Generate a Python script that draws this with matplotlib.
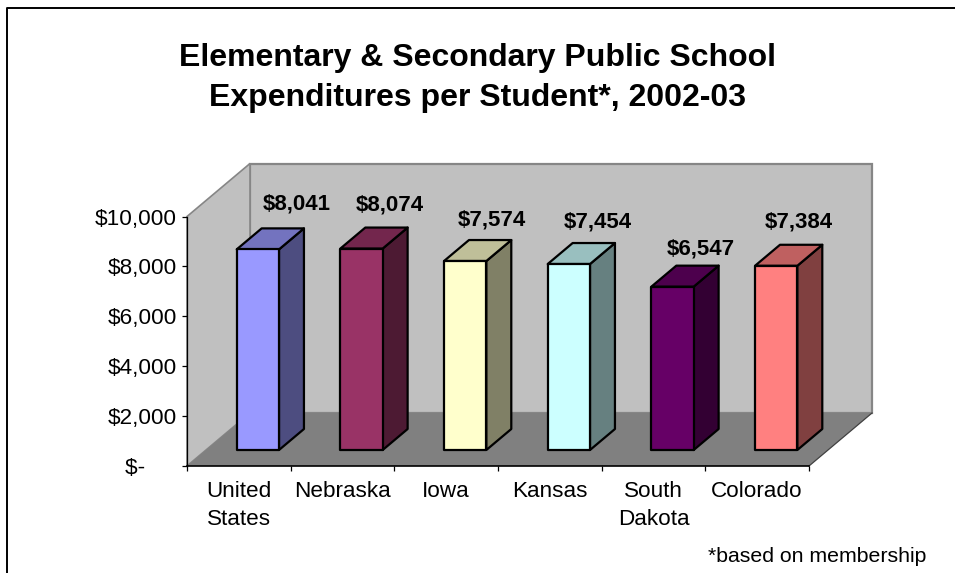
#!/usr/bin/env python3
"""Per-student school expenditures as an Excel-style 3D column chart."""
import matplotlib
matplotlib.use("Agg")
import matplotlib.pyplot as plt
from matplotlib.colors import to_rgb
from matplotlib.lines import Line2D
from matplotlib.patches import Polygon

STATES = ["United\nStates", "Nebraska", "Iowa", "Kansas", "South\nDakota", "Colorado"]
SPENDING = [8041, 8074, 7574, 7454, 6547, 7384]
COLORS = ["#9999FF", "#993366", "#FFFFCC", "#CCFFFF", "#660066", "#FF8080"]
Y_TICKS = [0, 2000, 4000, 6000, 8000, 10000]
# label nudges in pixels from the back-top centre of each column
LABEL_NUDGE = [(13.5, 24), (3, 23), (2, 20.5), (3.5, 21), (3, 17), (-2.5, 23)]

W, H = 955, 573
LEFT, RIGHT, BASE, TOP = 187, 809, 466, 216.5
# full depth of the box, in data units
DEPTH_X = 63 / ((RIGHT - LEFT) / 6)
DEPTH_Y = 53 / ((BASE - TOP) / 10000)
BAR_WIDTH = 0.408
BAR_FRONT, BAR_BACK = 0.302, 0.698


def shade(color, k):
    return tuple(c * k for c in to_rgb(color))


def proj(x, y, d):
    return (x + d * DEPTH_X, y + d * DEPTH_Y)


def main():
    plt.rcParams["font.family"] = ["Liberation Sans", "DejaVu Sans"]
    fig = plt.figure(figsize=(W / 100, H / 100), dpi=100)
    ax = fig.add_axes([LEFT / W, 1 - BASE / H, (RIGHT - LEFT) / W, (BASE - TOP) / H])
    ax.set_xlim(0, 6)
    ax.set_ylim(0, 10000)
    ax.patch.set_visible(False)
    for side in ("top", "right"):
        ax.spines[side].set_visible(False)
    ax.spines["left"].set_linewidth(0.9)
    ax.spines["bottom"].set_linewidth(1.2)

    # walls and floor
    wall = "#C0C0C0"
    edge = "#868686"
    ax.add_patch(Polygon([proj(0, 0, 1), proj(6, 0, 1), proj(6, 10000, 1), proj(0, 10000, 1)],
                         fc=wall, ec=edge, lw=1.6, clip_on=False, zorder=1))
    ax.add_patch(Polygon([proj(0, 0, 0), proj(0, 0, 1), proj(0, 10000, 1), proj(0, 10000, 0)],
                         fc=wall, ec=edge, lw=1.2, clip_on=False, zorder=1))
    ax.add_patch(Polygon([proj(0, 0, 0), proj(6, 0, 0), proj(6, 0, 1), proj(0, 0, 1)],
                         fc="#808080", ec="none", clip_on=False, zorder=1.5))
    ax.add_line(Line2D(*zip(proj(6, 0, 0), proj(6, 0, 1)), color="#404040", lw=0.9,
                       clip_on=False, zorder=1.6))

    # columns: side, top, front
    for i, (val, col) in enumerate(zip(SPENDING, COLORS)):
        x0 = i + 0.5 - BAR_WIDTH / 2
        x1 = i + 0.5 + BAR_WIDTH / 2
        style = dict(ec="black", lw=1.6, clip_on=False, zorder=3, joinstyle="round")
        ax.add_patch(Polygon([proj(x1, 0, BAR_FRONT), proj(x1, 0, BAR_BACK),
                              proj(x1, val, BAR_BACK), proj(x1, val, BAR_FRONT)],
                             fc=shade(col, 0.5), **style))
        ax.add_patch(Polygon([proj(x0, val, BAR_FRONT), proj(x1, val, BAR_FRONT),
                              proj(x1, val, BAR_BACK), proj(x0, val, BAR_BACK)],
                             fc=shade(col, 0.75), **style))
        ax.add_patch(Polygon([proj(x0, 0, BAR_FRONT), proj(x1, 0, BAR_FRONT),
                              proj(x1, val, BAR_FRONT), proj(x0, val, BAR_FRONT)],
                             fc=col, **style))
        ax.annotate(f"${val:,}", xy=proj(i + 0.5, val, BAR_BACK),
                    xytext=(LABEL_NUDGE[i][0] * 0.72, LABEL_NUDGE[i][1] * 0.72),
                    textcoords="offset points", ha="center", va="center",
                    fontsize=16, fontweight="bold", zorder=4, annotation_clip=False)

    ax.set_yticks(Y_TICKS)
    # the zero label keeps the accounting format's trailing padding
    ax.set_yticklabels(["$-\u00a0\u00a0\u00a0\u00a0\u00a0" if v == 0 else f"${v:,}" for v in Y_TICKS],
                       fontsize=16.2)
    ax.tick_params(axis="y", length=3.5, width=0.9, pad=4)
    ax.set_xticks(range(7))
    ax.set_xticklabels([])
    ax.tick_params(axis="x", which="major", length=3.5, width=0.9)
    ax.set_xticks([i + 0.5 for i in range(6)], minor=True)
    ax.set_xticklabels(STATES, minor=True, fontsize=16.2, linespacing=1.44)
    ax.tick_params(axis="x", which="minor", length=0, pad=11)

    fig.text(477 / W, 1 - 78 / H, "Elementary & Secondary Public School\nExpenditures per Student*, 2002-03",
             ha="center", va="center", fontsize=23, fontweight="bold", linespacing=1.4)
    fig.text(817 / W, 1 - 557 / H, "*based on membership", ha="center", va="center", fontsize=15.3)

    # chart frame runs along the top and left, the rest falls off the canvas
    fig.add_artist(Line2D([6.5 / W, 6.5 / W, 1], [0, 1 - 8 / H, 1 - 8 / H], color="black", lw=1.4))

    fig.savefig("out.png", dpi=100)
    plt.close(fig)


if __name__ == "__main__":
    main()
